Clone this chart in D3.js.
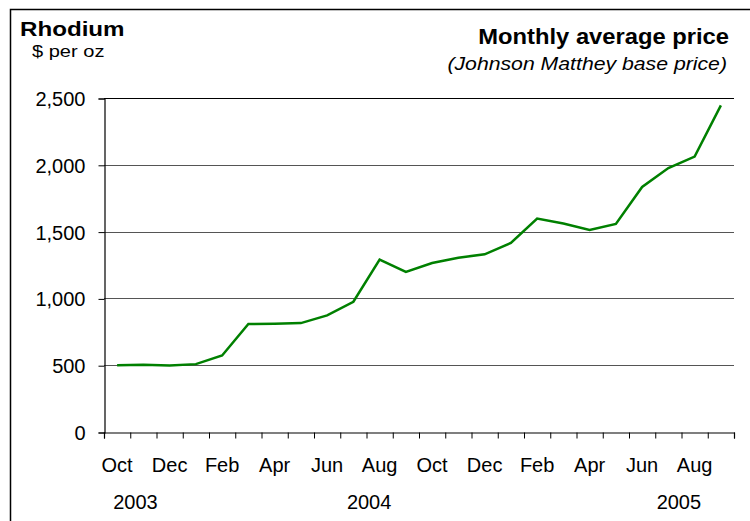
<!DOCTYPE html>
<html>
<head>
<meta charset="utf-8">
<script src="https://cdn.jsdelivr.net/npm/d3@7"></script>
<style>
  body { margin: 0; background: #fff; }
  text { font-family: "Liberation Sans", Arial, sans-serif; fill: #000; }
</style>
</head>
<body>
<div id="chart"></div>
<script>
// monthly average rhodium price, Oct 2003 - Sep 2005
var months = ["Oct","Nov","Dec","Jan","Feb","Mar","Apr","May","Jun","Jul","Aug","Sep",
              "Oct","Nov","Dec","Jan","Feb","Mar","Apr","May","Jun","Jul","Aug","Sep"];
var prices = [500, 503, 498, 508, 573, 808, 810, 815, 873, 975, 1290, 1198,
              1265, 1305, 1330, 1415, 1597, 1561, 1512, 1557, 1834, 1976, 2061, 2445];
var yTicks = [0, 500, 1000, 1500, 2000, 2500];
var years = ["2003", "2004", "2005"];
var yearAt = [1.2, 10.1, 21.9]; // month index where the year label sits

var width = 750, height = 521;
var margin = {top: 98, right: 16, bottom: 89, left: 104};

var svg = d3.select("#chart").append("svg")
  .attr("width", width)
  .attr("height", height);

// frame (left + top only)
svg.append("path")
  .attr("d", "M10.5,521V9.5H750")
  .attr("fill", "none")
  .attr("stroke", "#000")
  .attr("stroke-width", 1.5);

var x = d3.scaleLinear()
  .domain([0, months.length])
  .range([margin.left, width - margin.right]);

var y = d3.scaleLinear()
  .domain([0, 2500])
  .range([height - margin.bottom, margin.top]);

// gridlines
svg.append("g")
  .selectAll("line")
  .data(yTicks.filter(function(d) { return d > 0; }))
  .enter().append("line")
  .attr("x1", x(0))
  .attr("x2", x(months.length))
  .attr("y1", function(d) { return Math.round(y(d)) + 0.5; })
  .attr("y2", function(d) { return Math.round(y(d)) + 0.5; })
  .attr("stroke", function(d) { return d == 2500 ? "#000" : "#555"; })
  .attr("stroke-width", 1);

// y axis
var yAxis = svg.append("g")
  .attr("transform", "translate(" + (x(0) + 0.5) + ",0.5)")
  .call(d3.axisLeft(y).tickValues(yTicks).tickSize(6).tickPadding(13).tickFormat(d3.format(",")));
yAxis.selectAll("text").style("font-size", "20px").attr("dy", "0.35em");

// x axis, ticks at month boundaries
var xAxis = svg.append("g")
  .attr("transform", "translate(0," + (y(0) + 0.5) + ")")
  .call(d3.axisBottom(x).tickValues(d3.range(0, months.length + 1)).tickSize(6).tickFormat(""));

svg.selectAll(".domain").attr("stroke", "#000").attr("stroke-width", 1.2);

// month labels every other month
svg.append("g")
  .selectAll("text")
  .data(months)
  .enter().filter(function(d, i) { return i % 2 == 0; })
  .append("text")
  .attr("x", function(d, i) { return x(i * 2 + 0.5); })
  .attr("y", 472)
  .attr("text-anchor", "middle")
  .style("font-size", "20px")
  .text(function(d) { return d; });

// year labels
svg.append("g")
  .selectAll("text")
  .data(years)
  .enter().append("text")
  .attr("x", function(d, i) { return x(yearAt[i]); })
  .attr("y", 509)
  .attr("text-anchor", "middle")
  .style("font-size", "20px")
  .text(function(d) { return d; });

// price line
var line = d3.line()
  .x(function(d, i) { return x(i + 0.5); })
  .y(function(d) { return y(d); });

svg.append("path")
  .datum(prices)
  .attr("d", line)
  .attr("fill", "none")
  .attr("stroke", "#008000")
  .attr("stroke-width", 2.5);

// titles (source type is a bit wider than Liberation, so stretch horizontally)
function label(tx, ty, sx, txt) {
  return svg.append("text")
    .attr("transform", "translate(" + tx + "," + ty + ") scale(" + sx + ",1)")
    .text(txt);
}
label(20, 36, 1.15, "Rhodium")
  .style("font-size", "21px").style("font-weight", "bold");
label(32, 57, 1.18, "$ per oz")
  .style("font-size", "17px");
label(729, 44, 1.08, "Monthly average price")
  .attr("text-anchor", "end")
  .style("font-size", "22px").style("font-weight", "bold");
label(727, 70, 1.18, "(Johnson Matthey base price)")
  .attr("text-anchor", "end")
  .style("font-size", "18px").style("font-style", "italic");
</script>
</body>
</html>
